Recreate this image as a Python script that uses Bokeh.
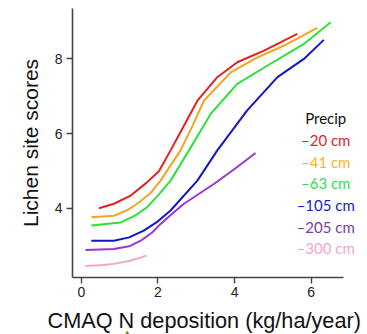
from bokeh.plotting import figure
from bokeh.models import Label, FixedTicker, Range1d, Title
from bokeh.embed import file_html
from bokeh.resources import INLINE

# Data
precip_labels = ["20 cm", "41 cm", "63 cm", "105 cm", "205 cm", "300 cm"]
line_colors = ["#e3211f", "#f2a51f", "#2fe03a", "#1414cc", "#9a34d6", "#f4a6c8"]
text_colors = ["#e8202a", "#f5b52a", "#33dd55", "#1a1ad0", "#7a3c9e", "#f2a6d2"]

x_20 = [0.46, 0.85, 1.29, 1.70, 2.03, 2.33, 2.70, 3.03, 3.55, 4.07, 4.77, 5.64]
y_20 = [4.00, 4.12, 4.34, 4.68, 5.00, 5.55, 6.25, 6.88, 7.51, 7.91, 8.22, 8.67]

x_41 = [0.26, 0.85, 1.20, 1.46, 1.80, 2.07, 2.59, 2.90, 3.20, 3.90, 4.60, 5.38, 6.16]
y_41 = [3.76, 3.80, 3.95, 4.12, 4.40, 4.74, 5.55, 6.20, 6.88, 7.64, 8.04, 8.40, 8.83]

x_63 = [0.26, 1.03, 1.40, 1.72, 2.05, 2.33, 2.81, 3.10, 3.38, 4.07, 4.94, 5.81, 6.51]
y_63 = [3.54, 3.62, 3.80, 4.03, 4.40, 4.74, 5.55, 6.05, 6.53, 7.33, 7.87, 8.40, 8.98]

x_105 = [0.26, 0.85, 1.25, 1.63, 2.00, 2.33, 3.03, 3.55, 3.95, 4.33, 5.12, 5.81, 6.33]
y_105 = [3.13, 3.13, 3.22, 3.40, 3.65, 3.94, 4.74, 5.55, 6.10, 6.62, 7.51, 8.00, 8.51]

x_205 = [0.11, 0.85, 1.25, 1.55, 1.85, 2.07, 2.40, 2.68, 3.46, 4.00, 4.55]
y_205 = [2.88, 2.91, 2.98, 3.13, 3.35, 3.58, 3.88, 4.12, 4.65, 5.05, 5.48]

x_300 = [0.11, 0.50, 0.85, 1.30, 1.70]
y_300 = [2.45, 2.47, 2.51, 2.60, 2.73]

xs = [x_20, x_41, x_63, x_105, x_205, x_300]
ys = [y_20, y_41, y_63, y_105, y_205, y_300]

x_ticks = [0, 2, 4, 6]
y_ticks = [4, 6, 8]
x_title = "CMAQ N deposition (kg/ha/year)"
y_title = "Lichen site scores"

p = figure(width=362, height=334, output_backend="svg", toolbar_location=None,
           x_range=Range1d(-0.23, 7.34), y_range=Range1d(2.145, 9.35),
           min_border_left=72, min_border_right=0, min_border_top=8,
           min_border_bottom=57)
p.grid.visible = False
p.outline_line_color = None
p.background_fill_color = "white"
p.border_fill_color = "white"

for ax in (p.xaxis[0], p.yaxis[0]):
    ax.axis_line_color = "#444444"
    ax.axis_line_width = 1.6
    ax.major_tick_line_color = "#444444"
    ax.major_tick_line_width = 1.4
    ax.major_tick_out = 6
    ax.major_tick_in = 0
    ax.minor_tick_line_color = None
    ax.major_label_text_font = "Liberation Sans"
    ax.major_label_text_font_size = "14px"
    ax.major_label_text_color = "#222222"
    ax.axis_label_text_font = "Liberation Sans"
    ax.axis_label_text_font_size = "21px"
    ax.axis_label_text_font_style = "normal"
    ax.axis_label_text_color = "#111111"

p.xaxis.bounds = (-0.23, 6.85)
p.xaxis.ticker = FixedTicker(ticks=x_ticks)
p.yaxis.ticker = FixedTicker(ticks=y_ticks)
p.yaxis.axis_label = y_title
p.xaxis.major_label_standoff = 3
p.yaxis.major_label_standoff = 4
p.yaxis.axis_label_standoff = 10

for xv, yv, c in zip(xs, ys, line_colors):
    p.line(xv, yv, line_color=c, line_width=2)

# Legend as text labels
p.add_layout(Label(x=6.38, y=6.42, text="Precip", text_align="center",
                   text_baseline="middle", text_font="Lato",
                   text_font_size="15px", text_color="#111111"))
for i, (lab, tc) in enumerate(zip(precip_labels, text_colors)):
    p.add_layout(Label(x=6.38, y=5.83 - 0.58 * i, text="\u2013" + lab,
                       text_align="center", text_baseline="middle",
                       text_font="Lato", text_font_size="15px", text_color=tc))

# x-axis title (as a side-panel title so it can be placed off-centre)
p.add_layout(Title(text=x_title, align="left", offset=-25, standoff=-67,
                   vertical_align="bottom", text_font="Liberation Sans",
                   text_font_size="21.7px", text_font_style="normal",
                   text_color="#111111"), "below")

# small green marker under the "N" of the axis title
p.add_layout(Title(text="\u25b2", align="left", offset=52, standoff=-74,
                   vertical_align="bottom", text_font="DejaVu Sans",
                   text_font_size="7px", text_font_style="normal",
                   text_color="#5a8a2a"), "below")

open("out.html", "w").write(file_html(p, INLINE))
